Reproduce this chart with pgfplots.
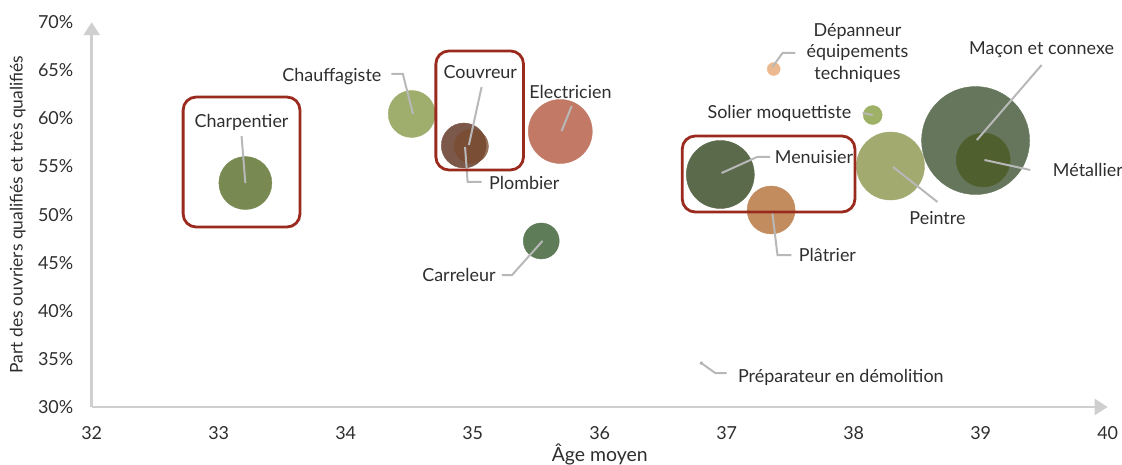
\documentclass[border=0pt]{standalone}
\usepackage{pgfplots}
\pgfplotsset{compat=1.18}
\usepackage{fontspec}
\setmainfont{Lato}
\usetikzlibrary{arrows.meta}
\definecolor{axisgrey}{HTML}{CFCFCF}
\definecolor{leadgrey}{HTML}{B8B8B8}
\definecolor{txt}{HTML}{2E2E2E}
\definecolor{boxred}{HTML}{9A2A1E}
\definecolor{charp}{HTML}{788A52}
\definecolor{chauf}{HTML}{9FAE6C}
\definecolor{plomb}{HTML}{7B584A}
\definecolor{couvr}{HTML}{7A4B2E}
\definecolor{elec}{HTML}{C27A66}
\definecolor{carr}{HTML}{5F7C58}
\definecolor{depan}{HTML}{EBB88F}
\definecolor{solier}{HTML}{9DB266}
\definecolor{menu}{HTML}{5A6A4B}
\definecolor{platr}{HTML}{C38C5E}
\definecolor{peint}{HTML}{A2AA70}
\definecolor{macon}{HTML}{65765C}
\definecolor{metal}{HTML}{4F602E}
\definecolor{prep}{HTML}{A8A8A8}
\newcommand{\lbl}{\fontsize{18}{20}\selectfont}
\pgfplotsset{myframe/.style={scale only axis, width=1016bp, height=384.8bp,
  xmin=32, xmax=40, ymin=30, ymax=70, clip=false}}
\begin{document}
\begin{tikzpicture}
\path[use as bounding box] (-91.7bp,-58bp) rectangle (1030.3bp,407bp);
\begin{axis}[
  myframe,
  axis lines*=left,
  axis line style={draw=axisgrey, line width=2.8bp},
  x axis line style={-{Triangle[length=13bp,width=16bp]}},
  y axis line style={-{Triangle[length=13bp,width=16bp]}},
  xtick={32,33,...,40}, ytick={30,35,...,70},
  yticklabel={\pgfmathprintnumber{\tick}\%},
  major tick length=0pt,
  tick label style={font=\lbl, text=txt},
  x tick label style={yshift=-16bp},
  y tick label style={xshift=-15bp},
  /pgf/number format/assume math mode=true,
  every axis plot/.append style={only marks, mark=*},
]
\addplot[charp, mark size=26.5bp] coordinates {(33.21,53.28)};
\addplot[chauf, mark size=23.5bp] coordinates {(34.52,60.46)};
\addplot[plomb, mark size=22.5bp] coordinates {(34.93,57.18)};
\addplot[couvr, mark size=17bp, mark options={opacity=0.75}] coordinates {(34.99,57.10)};
\addplot[elec, mark size=32bp] coordinates {(35.69,58.64)};
\addplot[carr, mark size=18bp] coordinates {(35.54,47.26)};
\addplot[depan, mark size=6.5bp] coordinates {(37.37,65.13)};
\addplot[solier, mark size=9.5bp] coordinates {(38.15,60.35)};
\addplot[menu, mark size=34bp] coordinates {(36.95,54.17)};
\addplot[platr, mark size=24bp] coordinates {(37.35,50.48)};
\addplot[peint, mark size=34bp] coordinates {(38.29,55.05)};
\addplot[macon, mark size=54bp] coordinates {(38.96,57.70)};
\addplot[metal, mark size=27bp] coordinates {(39.02,55.68)};
\addplot[prep, mark size=1.5bp] coordinates {(36.80,34.57)};
\node[font=\fontsize{19.5}{21}\selectfont, text=txt] at ([yshift=-47bp]rel axis cs:0.5,0) {Âge moyen};
\node[font=\fontsize{17.5}{19}\selectfont, text=txt, rotate=90] at ([xshift=-74bp]rel axis cs:0,0.5) {Part des ouvriers qualifiés et très qualifiés};
\end{axis}
\begin{axis}[myframe, hide axis]
\begin{scope}[draw=leadgrey, line width=2bp]
\draw (axis cs:33.18,58.17) -- (axis cs:33.21,53.28);
\draw (axis cs:34.36,64.62) -- (axis cs:34.45,64.62) -- (axis cs:34.53,60.46);
\draw (axis cs:35.07,63.26) -- (axis cs:34.97,57.23);
\draw (axis cs:34.94,57.03) -- (axis cs:34.96,53.39) -- (axis cs:35.07,53.39);
\draw (axis cs:35.78,61.29) -- (axis cs:35.70,58.69);
\draw (axis cs:35.23,43.72) -- (axis cs:35.31,43.72) -- (axis cs:35.55,47.26);
\draw (axis cs:37.36,65.34) -- (axis cs:37.44,66.80) -- (axis cs:37.54,66.80);
\draw (axis cs:38.07,60.56) -- (axis cs:38.15,60.35);
\draw (axis cs:37.34,55.99) -- (axis cs:37.24,55.99) -- (axis cs:36.96,54.32);
\draw (axis cs:37.36,50.17) -- (axis cs:37.40,45.80) -- (axis cs:37.51,45.80);
\draw (axis cs:38.31,54.95) -- (axis cs:38.66,51.31);
\draw (axis cs:39.48,65.55) -- (axis cs:38.97,57.75);
\draw (axis cs:39.03,55.68) -- (axis cs:39.39,54.64);
\draw (axis cs:36.80,34.57) -- (axis cs:36.91,33.53) -- (axis cs:37.00,33.53);
\end{scope}
\begin{scope}[draw=boxred, line width=2.8bp, rounded corners=13bp]
\draw (axis cs:32.72,62.22) rectangle (axis cs:33.64,48.71);
\draw (axis cs:34.71,67.01) rectangle (axis cs:35.40,54.64);
\draw (axis cs:36.65,58.17) rectangle (axis cs:38.01,50.27);
\end{scope}
\begin{scope}[every node/.style={font=\lbl, text=txt, inner sep=1bp}]
\node at (axis cs:33.18,59.63) {Charpentier};
\node[anchor=east] at (axis cs:34.29,64.40) {Chauffagiste};
\node at (axis cs:35.06,64.82) {Couvreur};
\node[anchor=west] at (axis cs:35.12,53.29) {Plombier};
\node at (axis cs:35.77,62.74) {Electricien};
\node[anchor=east] at (axis cs:35.19,43.72) {Carreleur};
\node[align=center, font=\fontsize{18}{21.5}\selectfont] at (axis cs:38.03,66.80) {Dépanneur\\équipements\\techniques};
\node[anchor=east] at (axis cs:37.99,60.56) {Solier moquettiste};
\node[anchor=west] at (axis cs:37.37,55.99) {Menuisier};
\node[anchor=west] at (axis cs:37.56,45.80) {Plâtrier};
\node at (axis cs:38.66,49.65) {Peintre};
\node at (axis cs:39.48,67.11) {Maçon et connexe};
\node[anchor=west] at (axis cs:39.56,54.64) {Métallier};
\node[anchor=west] at (axis cs:37.08,33.12) {Préparateur en démolition};
\end{scope}
\end{axis}
\end{tikzpicture}
\end{document}
